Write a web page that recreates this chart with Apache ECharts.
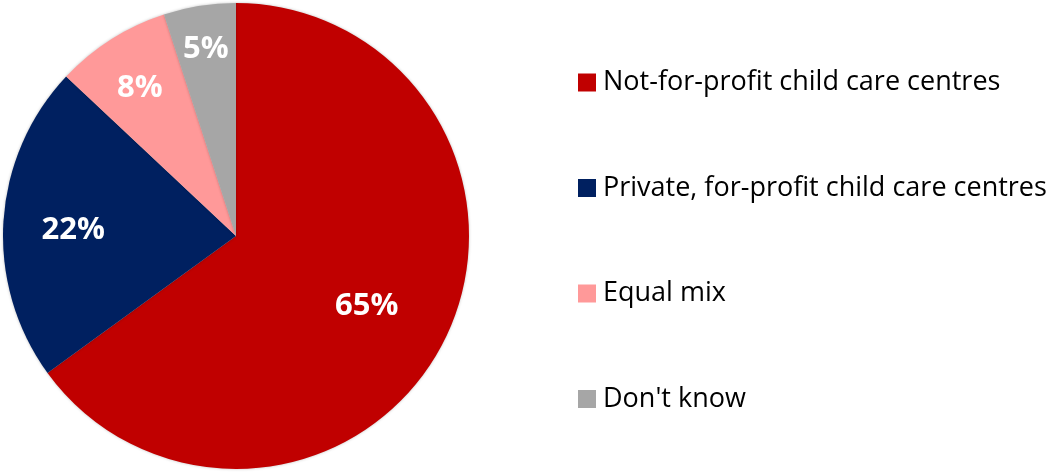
<!DOCTYPE html>
<html><head><meta charset="utf-8">
<script src="https://cdn.jsdelivr.net/npm/echarts@6/dist/echarts.min.js"></script>
<style>html,body{margin:0;padding:0;background:#fff}#c{width:1060px;height:472px}</style>
</head><body><div id="c"></div>
<script>
const categories = ["Not-for-profit child care centres", "Private, for-profit child care centres", "Equal mix", "Don't know"];
const values = [65, 22, 8, 5];
const colors = ["#C00000", "#002060", "#FF9999", "#A6A6A6"];
const labelRadiusFactor = [0.63, 0.70, 0.77, 0.83];

const CX = 236, CY = 236, R = 233;
const total = values.reduce((a, b) => a + b, 0);
const chart = echarts.init(document.getElementById('c'), null, {renderer: 'canvas'});
chart.setOption({
  animation: false,
  legend: {
    orient: 'vertical', left: 578, top: 69, padding: 0,
    itemWidth: 18, itemHeight: 18, itemGap: 78.5,
    icon: 'rect',
    textStyle: {fontFamily: 'Open Sans', fontSize: 27, color: '#000', lineHeight: 27, padding: [0, 0, 0, 2]},
    data: categories
  },
  series: [{
    type: 'pie',
    center: [CX, CY], radius: R,
    startAngle: 90, clockwise: true,
    itemStyle: {borderWidth: 0, shadowBlur: 3, shadowColor: 'rgba(0,0,0,0.25)'},
    label: {show: true, position: 'inside', formatter: '{c}%', color: '#fff', fontFamily: 'Open Sans', fontWeight: 'bold', fontSize: 31},
    labelLine: {show: false},
    emphasis: {disabled: true},
    labelLayout: function (p) {
      const i = p.dataIndex;
      let cum = 0;
      for (let k = 0; k < i; k++) cum += values[k];
      const mid = (cum + values[i] / 2) / total * 2 * Math.PI;
      const rr = R * labelRadiusFactor[i];
      return {x: CX + rr * Math.sin(mid), y: CY - rr * Math.cos(mid) + 4, align: 'center', verticalAlign: 'middle'};
    },
    data: categories.map((n, i) => ({name: n, value: values[i], itemStyle: {color: colors[i]}}))
  }]
});
</script></body></html>
